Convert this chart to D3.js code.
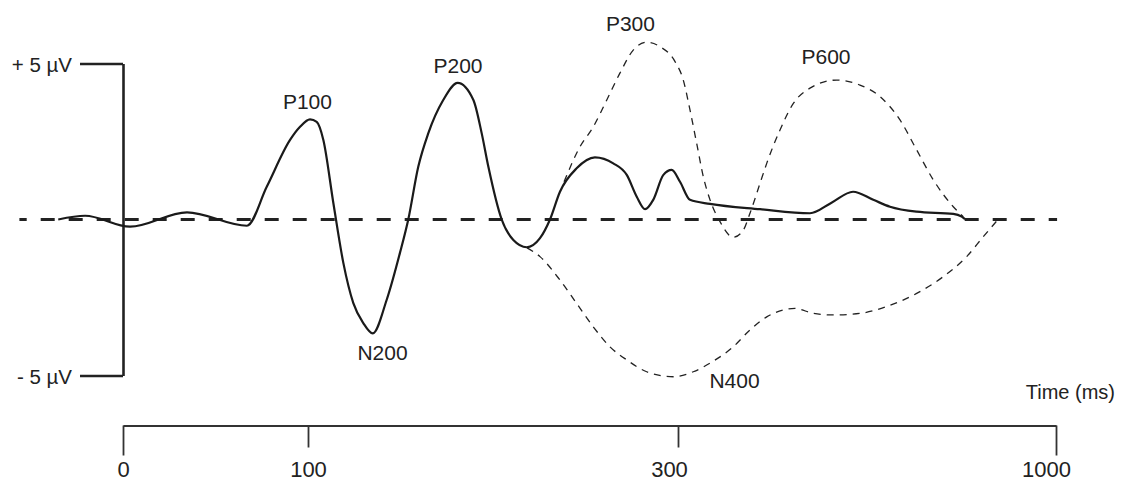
<!DOCTYPE html>
<html>
<head>
<meta charset="utf-8">
<script src="https://cdn.jsdelivr.net/npm/d3@7"></script>
<style>
  html, body { margin: 0; padding: 0; background: #fff; }
  svg { display: block; }
  text { font-family: "Liberation Sans", Arial, Helvetica, sans-serif; fill: #222; }
</style>
</head>
<body>
<svg id="chart" width="1122" height="481"></svg>
<script>
// ---- Data (time in ms, amplitude in µV; positive up) ----
const xTickValues = [0, 100, 300, 1000];
const xTickLabels = ["0", "100", "300", "1000"];
const yTickValues = [5, -5];
const yTickLabels = ["+ 5 µV", "- 5 µV"];
const baselineExtent = [-56, 1002];

// main ERP waveform (solid)
const erpTime = [-35, -20.5, 3.8, 34.6, 67.0, 77.7, 90.3, 95.7, 101.1, 104.7, 108.3, 113.7, 119.1, 124.5, 129.9, 135.0,
  142.5, 149.7, 154.2, 159.6, 165.0, 173.1, 180.9, 189.4, 193.9, 197.5, 204.7, 211.0, 218.2, 225.4, 230.8, 236.2,
  245.2, 255.1, 265.0, 272.3, 277.7, 282.2, 286.6, 292.1, 296.6, 303.7, 322.2, 359.3, 451.9, 544.4, 584.3, 624.1,
  661.7, 692.6, 742.0, 809.8, 825.4, 831.5];
const erpValue = [0, 0.12, -0.23, 0.23, -0.20, 1.05, 2.55, 2.97, 3.21, 3.13, 2.55, 0.53, -1.39, -2.68, -3.32, -3.65,
  -2.58, -1.07, 0, 1.69, 2.76, 3.83, 4.38, 3.83, 2.76, 1.69, 0, -0.66, -0.89, -0.60, 0, 0.89,
  1.64, 1.99, 1.80, 1.43, 0.73, 0.33, 0.63, 1.43, 1.59, 1.21, 0.63, 0.50, 0.33, 0.20, 0.54, 0.89,
  0.63, 0.41, 0.25, 0.18, 0.09, 0.01];

// P300 / P600 variant (dashed, positive)
const posTime = [238.4, 247.0, 254.2, 261.5, 268.6, 275.8, 283.1, 290.3, 298.4, 309.8, 322.2, 334.6, 346.9, 359.3,
  377.8, 402.4, 420.9, 433.3, 451.9, 464.3, 488.9, 513.6, 544.4, 593.9, 637.0, 674.1, 711.1, 742.0, 772.8, 809.8, 828.3];
const posValue = [1.21, 2.33, 2.97, 3.83, 4.69, 5.43, 5.68, 5.54, 5.06, 4.47, 3.51, 2.44, 1.37, 0.63,
  -0.07, -0.57, -0.34, 0.20, 1.16, 1.80, 2.87, 3.72, 4.21, 4.47, 4.31, 3.94, 3.19, 2.23, 1.27, 0.41, 0.09];

// N400 variant (dashed, negative)
const negTime = [218.4, 225.4, 236.2, 245.2, 254.2, 263.2, 272.3, 283.1, 297.5, 328.3, 365.4, 402.4, 433.3, 464.3,
  495.0, 516.7, 550.6, 587.6, 637.0, 686.5, 742.0, 791.3, 834.6, 865.4, 892.6];
const negValue = [-0.91, -1.19, -1.94, -2.69, -3.44, -4.08, -4.50, -4.88, -5.04, -4.88, -4.54, -4.08, -3.54, -3.12,
  -2.90, -2.85, -3.01, -3.06, -3.01, -2.79, -2.37, -1.83, -1.19, -0.55, 0];

// component labels
const compNames = ["P100", "N200", "P200", "P300", "P600", "N400"];
const compTime = [99.7, 140.3, 181.1, 274.3, 574.1, 404.6];
const compValue = [3.54, -4.50, 4.70, 6.03, 4.98, -5.40];

const xAxisTitle = "Time (ms)";

// ---- Layout (pixels) ----
const xLabelShift = [0, 0, -9, -10];

// ---- Scales ----
const x = d3.scaleLinear().domain([0, 100, 300, 1000]).range([123, 308, 678, 1056]);
const y = d3.scaleLinear().domain([-5, 5]).range([375.5, 63.5]);

const svg = d3.select("#chart");
svg.append("rect").attr("width", 1122).attr("height", 481).attr("fill", "#fff");

// baseline
svg.append("line")
  .attr("x1", x(baselineExtent[0])).attr("x2", x(baselineExtent[1]))
  .attr("y1", y(0)).attr("y2", y(0))
  .attr("stroke", "#222").attr("stroke-width", 3)
  .attr("stroke-dasharray", "14,14").attr("stroke-dashoffset", 6.7);

// y axis
const yAxis = d3.axisLeft(y).tickValues(yTickValues).tickSizeInner(43).tickSizeOuter(0).tickPadding(8)
  .tickFormat((d, i) => yTickLabels[i]);
const gy = svg.append("g").attr("transform", `translate(${x(0)},0)`).call(yAxis);
gy.select(".domain").attr("stroke", "#222").attr("stroke-width", 2.6);
gy.selectAll(".tick line").attr("stroke", "#222").attr("stroke-width", 2.6);
gy.selectAll(".tick text").style("font-size", "20.5px").attr("fill", "#222")
  .attr("dy", "0.4em").style("font-family", "'Liberation Sans', Arial, sans-serif");

// x axis
const xAxis = d3.axisBottom(x).tickValues(xTickValues).tickSizeInner(22).tickSizeOuter(0)
  .tickFormat((d, i) => xTickLabels[i]);
const gx = svg.append("g").attr("transform", "translate(0,425.5)").call(xAxis);
gx.select(".domain").attr("stroke", "#333").attr("stroke-width", 2);
gx.selectAll(".tick line").attr("stroke", "#333").attr("stroke-width", 1.8)
  .attr("y2", d => (d === 0 || d === 1000) ? 30 : 22);
gx.selectAll(".tick text").style("font-size", "22px").attr("fill", "#222")
  .attr("y", 51).attr("dy", null)
  .attr("x", (d, i) => xLabelShift[i])
  .style("font-family", "'Liberation Sans', Arial, sans-serif");

svg.append("text").attr("x", 1115).attr("y", 399).attr("text-anchor", "end")
  .style("font-size", "20px").text(xAxisTitle);

// curves
const line = d3.line().x(d => x(d[0])).y(d => y(d[1])).curve(d3.curveMonotoneX);

svg.append("path").datum(posTime.map((t, i) => [t, posValue[i]]))
  .attr("d", line).attr("fill", "none").attr("stroke", "#222")
  .attr("stroke-width", 1.3).attr("stroke-dasharray", "7,6");

svg.append("path").datum(negTime.map((t, i) => [t, negValue[i]]))
  .attr("d", line).attr("fill", "none").attr("stroke", "#222")
  .attr("stroke-width", 1.3).attr("stroke-dasharray", "7,6");

svg.append("path").datum(erpTime.map((t, i) => [t, erpValue[i]]))
  .attr("d", line).attr("fill", "none").attr("stroke", "#1a1a1a")
  .attr("stroke-width", 2.2).attr("stroke-linejoin", "round");

// component labels
svg.selectAll("text.comp").data(compNames).enter().append("text")
  .attr("class", "comp")
  .attr("x", (d, i) => x(compTime[i])).attr("y", (d, i) => y(compValue[i]))
  .attr("text-anchor", "middle").style("font-size", "21px").text(d => d);
</script>
</body>
</html>
